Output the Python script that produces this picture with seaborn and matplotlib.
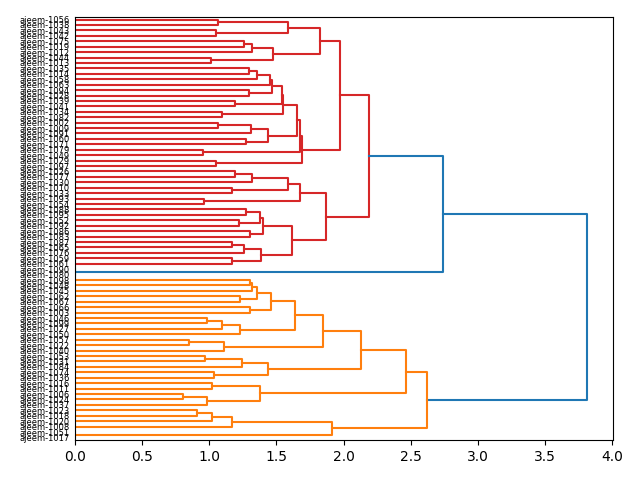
import matplotlib
matplotlib.use("Agg")
import matplotlib.pyplot as plt
import pandas as pd
import seaborn as sns

# leaf labels, top to bottom
labels = [
    "ajeem-1056", "ajeem-1038", "ajeem-1043", "ajeem-1042", "ajeem-1075", "ajeem-1019",
    "ajeem-1012", "ajeem-1044", "ajeem-1013", "ajeem-1035", "ajeem-1014", "ajeem-1058",
    "ajeem-1063", "ajeem-1094", "ajeem-1028", "ajeem-1039", "ajeem-1041", "ajeem-1034",
    "ajeem-1082", "ajeem-1002", "ajeem-1009", "ajeem-1091", "ajeem-1060", "ajeem-1071",
    "ajeem-1079", "ajeem-1049", "ajeem-1029", "ajeem-1097", "ajeem-1026", "ajeem-1077",
    "ajeem-1030", "ajeem-1010", "ajeem-1033", "ajeem-1093", "ajeem-1054", "ajeem-1088",
    "ajeem-1095", "ajeem-1052", "ajeem-1092", "ajeem-1086", "ajeem-1083", "ajeem-1087",
    "ajeem-1065", "ajeem-1076", "ajeem-1059", "ajeem-1061", "ajeem-1090", "ajeem-1080",
    "ajeem-1098", "ajeem-1048", "ajeem-1045", "ajeem-1062", "ajeem-1067", "ajeem-1066",
    "ajeem-1003", "ajeem-1046", "ajeem-1099", "ajeem-1027", "ajeem-1050", "ajeem-1057",
    "ajeem-1022", "ajeem-1040", "ajeem-1053", "ajeem-1031", "ajeem-1084", "ajeem-1074",
    "ajeem-1036", "ajeem-1016", "ajeem-1011", "ajeem-1006", "ajeem-1024", "ajeem-1037",
    "ajeem-1023", "ajeem-1018", "ajeem-1020", "ajeem-1008", "ajeem-1051", "ajeem-1017",
]

# merge k creates node len(labels)+k from merge_left[k] and merge_right[k]
merge_left = [
    0, 2, 78, 4, 81, 7, 82, 80, 9, 86,
    87, 13, 88, 15, 90, 17, 92, 19, 95, 22,
    96, 94, 24, 99, 26, 101, 85, 28, 105, 31,
    106, 33, 108, 35, 37, 111, 39, 113, 41, 116,
    44, 117, 115, 110, 104, 46, 122, 48, 125, 51,
    126, 53, 128, 55, 131, 132, 130, 59, 135, 134,
    62, 138, 65, 139, 137, 67, 69, 144, 143, 142,
    72, 148, 149, 76, 150, 147, 124,
]
merge_right = [
    1, 3, 79, 5, 6, 8, 83, 84, 10, 11,
    12, 14, 89, 16, 91, 18, 93, 20, 21, 23,
    97, 98, 25, 100, 27, 102, 103, 29, 30, 32,
    107, 34, 109, 36, 38, 112, 40, 114, 42, 43,
    45, 118, 119, 120, 121, 47, 123, 49, 50, 52,
    127, 54, 129, 56, 57, 58, 133, 60, 61, 136,
    63, 64, 66, 140, 141, 68, 70, 71, 145, 146,
    73, 74, 75, 77, 151, 152, 153,
]
merge_height = [
    1.068, 1.048, 1.589, 1.256, 1.321, 1.014, 1.477, 1.827, 1.294, 1.358,
    1.450, 1.294, 1.470, 1.195, 1.539, 1.093, 1.552, 1.068, 1.309, 1.276,
    1.437, 1.650, 0.954, 1.673, 1.048, 1.690, 1.975, 1.190, 1.321, 1.167,
    1.586, 0.959, 1.673, 1.276, 1.222, 1.375, 1.300, 1.400, 1.172, 1.262,
    1.167, 1.383, 1.618, 1.871, 2.186, 0.000, 2.738, 1.300, 1.318, 1.232,
    1.358, 1.300, 1.462, 0.986, 1.098, 1.232, 1.636, 0.850, 1.108, 1.846,
    0.967, 1.247, 1.033, 1.437, 2.126, 1.021, 0.805, 0.986, 1.375, 2.466,
    0.909, 1.021, 1.167, 0.000, 1.913, 2.622, 3.814,
]

n = len(labels)
m = len(merge_height)
left, right, height = {}, {}, {}
for k, (a, b, h) in enumerate(zip(merge_left, merge_right, merge_height)):
    left[n + k], right[n + k], height[n + k] = a, b, h
root = n + m - 1

# leaf positions like scipy: 5, 15, 25 ... from the bottom
ypos = {i: 10 * (n - 1 - i) + 5 for i in range(n)}
xpos = {i: 0.0 for i in range(n)}


def place(node):
    if node < n:
        return
    place(left[node])
    place(right[node])
    ypos[node] = (ypos[left[node]] + ypos[right[node]]) / 2
    xpos[node] = height[node]


place(root)

# colours: clusters below 0.7*max height get palette colours, the rest blue
pal = sns.color_palette("tab10").as_hex()
thr = 0.7 * max(merge_height)
link_color = {}
clusters = []


def walk(node):
    if node < n:
        return
    if height[node] >= thr:
        link_color[node] = pal[0]
        walk(left[node])
        walk(right[node])
    else:
        clusters.append(node)


def paint(node, col):
    if node < n:
        return
    link_color[node] = col
    paint(left[node], col)
    paint(right[node], col)


walk(root)
clusters.sort(key=lambda c: ypos[c])
for i, c in enumerate(clusters):
    paint(c, pal[1 + i % 9])

rows = []
for node in range(n, n + m):
    a, b, h = left[node], right[node], height[node]
    pts = [(xpos[a], ypos[a]), (h, ypos[a]), (h, ypos[b]), (xpos[b], ypos[b])]
    for x, y in pts:
        rows.append({"x": x, "y": y, "link": node, "color": link_color[node]})
df = pd.DataFrame(rows)

fig, ax = plt.subplots(figsize=(6.4, 4.8), dpi=100)
sns.lineplot(data=df, x="x", y="y", units="link", hue="color",
             palette={c: c for c in df["color"].unique()},
             estimator=None, sort=False, legend=False, linewidth=1.5, ax=ax)

ax.set_ylim(0, 10 * n)
ax.set_xlim(0, 1.05 * max(merge_height))
ax.set_yticks([ypos[i] for i in range(n)])
ax.set_yticklabels(labels, fontsize=6)
ax.tick_params(axis="y", length=0)
ax.set_xlabel("")
ax.set_ylabel("")
plt.subplots_adjust(left=0.117, right=0.958, top=0.965, bottom=0.083)
plt.savefig("out.png", dpi=100)
